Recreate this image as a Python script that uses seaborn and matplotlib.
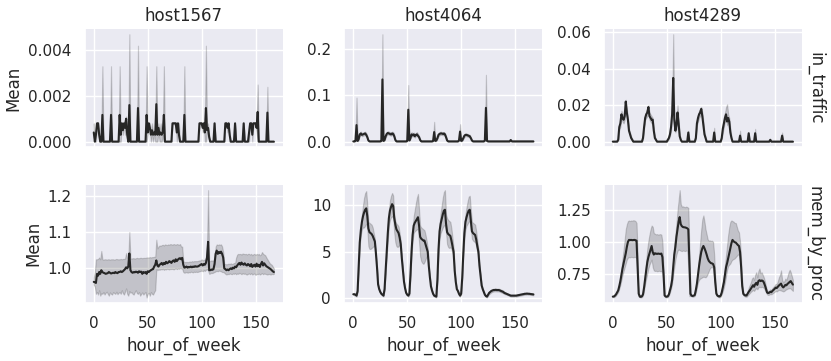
import pandas as pd
import seaborn as sns
import matplotlib.pyplot as plt

hosts = ["host1567", "host4064", "host4289"]
metrics = ["in_traffic", "mem_by_proc"]
hours = list(range(168))

# in_traffic / host1567 (one row of 24 values per day)
traffic_1567_mean = (
    [.0004, 0, .0003, .0008, .0008, .0003, 0, 0, .00117, 0, 0, 0, 0, 0, 0, 0, .00117, 0, 0, 0, 0, 0, 0, 0]
    + [.00117, .0003, .0008, .0005, .0008, .0006, .001, .0003, 0, .0016, 0, 0, 0, 0, 0, 0, 0, .00147, 0, 0, 0, 0, 0, 0]
    + [0, .00117, .0004, .0008, .0006, .0003, .0005, .0003, .0004, .0003, .00164, .0003, .0006, .0003, .0004, .0003, .0004, .00117, 0, 0, 0, 0, 0, 0]
    + [0, .0008, .0008, .0008, .0008, .0004, .0008, .0003, 0, 0, 0, 0, .00117, 0, 0, 0, 0, 0, 0, 0, 0, 0, 0, 0]
    + [0, 0, .0008, .0008, .0008, .0006, .0008, .0004, .00147, .0005, .0006, .0002, 0, 0, 0, 0, .0008, 0, 0, 0, 0, 0, 0, 0]
    + [0, 0, .0008, .0008, .0006, .0008, .0003, 0, 0, 0, 0, .0008, 0, 0, 0, 0, 0, 0, 0, .0008, 0, 0, 0, 0]
    + [.0004, .0008, .0008, .0003, .0008, .0008, .0008, .0006, .0013, 0, 0, 0, 0, 0, 0, 0, 0, .00127, 0, 0, 0, 0, 0, 0]
)
traffic_1567_hi = (
    [.0008, 0, .0003, .00085, .00085, .0003, 0, 0, .0033, 0, 0, 0, 0, 0, 0, 0, .0033, 0, 0, 0, 0, 0, 0, 0]
    + [.0033, .0003, .00085, .0008, .00085, .001, .0011, .0003, 0, .0047, 0, 0, 0, 0, 0, 0, 0, .0042, 0, 0, 0, 0, 0, 0]
    + [0, .0033, .0005, .00085, .0008, .0004, .0008, .0004, .0005, .0004, .0033, .0004, .0008, .0004, .0008, .0004, .0005, .0033, 0, 0, 0, 0, 0, 0]
    + [0, .00085, .00085, .00085, .00085, .0008, .00085, .0008, 0, 0, 0, 0, .0033, 0, 0, 0, 0, 0, 0, 0, 0, 0, 0, 0]
    + [0, 0, .00085, .00085, .00085, .0008, .00085, .0008, .0042, .0006, .0008, .0003, 0, 0, 0, 0, .00085, 0, 0, 0, 0, 0, 0, 0]
    + [0, 0, .00085, .00085, .0008, .00085, .0004, 0, 0, 0, 0, .00085, 0, 0, 0, 0, 0, 0, 0, .00085, 0, 0, 0, 0]
    + [.0008, .00085, .00085, .0008, .00085, .00085, .00085, .0008, .0025, 0, 0, 0, 0, 0, 0, 0, 0, .0024, 0, 0, 0, 0, 0, 0]
)
traffic_1567_lo = (
    [.0002, 0, 0, .00075, .00075, 0, 0, 0, 0, 0, 0, 0, 0, 0, 0, 0, 0, 0, 0, 0, 0, 0, 0, 0]
    + [0, 0, .00075, .0003, .00075, .0003, .0009, 0, 0, 0, 0, 0, 0, 0, 0, 0, 0, 0, 0, 0, 0, 0, 0, 0]
    + [0, 0, .0003, .00075, .0004, 0, .0003, 0, .0003, 0, 0, 0, .0004, 0, 0, 0, .0003, 0, 0, 0, 0, 0, 0, 0]
    + [0, .00075, .00075, .00075, .00075, 0, .00075, 0, 0, 0, 0, 0, 0, 0, 0, 0, 0, 0, 0, 0, 0, 0, 0, 0]
    + [0, 0, .00075, .00075, .00075, .0004, .00075, 0, 0, .0004, .0004, 0, 0, 0, 0, 0, .00075, 0, 0, 0, 0, 0, 0, 0]
    + [0, 0, .00075, .00075, .0004, .00075, 0, 0, 0, 0, 0, .00075, 0, 0, 0, 0, 0, 0, 0, .00075, 0, 0, 0, 0]
    + [0, .00075, .00075, 0, .00075, .00075, .00075, .0004, 0, 0, 0, 0, 0, 0, 0, 0, 0, 0, 0, 0, 0, 0, 0, 0]
)

# in_traffic / host4064
traffic_4064_mean = (
    [.001, .001, .002, .036, .002, .006, .016, .018, .015, .016, .017, .018, .015, .010, .003] + [.001] * 9
    + [.001, .001, .002, .134, .002, .004, .012, .017, .019, .018, .017, .016, .018, .017, .012, .004] + [.001] * 8
    + [.001, .001, .002, .069, .003, .008, .016, .014, .016, .012, .015, .016, .013, .010, .004] + [.001] * 9
    + [.001, .001, .002, .021, .002, .003, .008, .015, .017, .018, .018, .017, .018, .016, .010, .003] + [.001] * 8
    + [.001, .001, .003, .022, .002, .003, .008, .013, .015, .015, .014, .013, .012, .008, .003] + [.001] * 9
    + [.001, .001, .003, .073, .002] + [.001] * 19
    + [.001, .001, .004] + [.001] * 21
)
traffic_4064_hi = (
    [.0015, .0015, .003, .095, .003, .009, .020, .022, .019, .020, .021, .022, .019, .013, .004] + [.0015] * 9
    + [.0015, .0015, .003, .231, .003, .006, .016, .021, .023, .022, .021, .020, .022, .021, .015, .005] + [.0015] * 8
    + [.0015, .0015, .003, .122, .004, .011, .021, .018, .020, .016, .019, .021, .017, .013, .005] + [.0015] * 9
    + [.0015, .0015, .003, .043, .003, .004, .011, .019, .021, .022, .021, .020, .021, .019, .013, .004] + [.0015] * 8
    + [.0015, .0015, .004, .038, .003, .004, .010, .016, .018, .018, .017, .016, .015, .010, .004] + [.0015] * 9
    + [.0015, .0015, .004, .144, .003] + [.0015] * 19
    + [.0015, .0015, .005] + [.0015] * 21
)
traffic_4064_lo = (
    [.0005, .0005, .001, .004, .001, .004, .013, .015, .012, .013, .014, .015, .012, .008, .002] + [.0005] * 9
    + [.0005, .0005, .001, .010, .001, .003, .009, .014, .016, .015, .014, .013, .015, .014, .010, .003] + [.0005] * 8
    + [.0005, .0005, .001, .010, .002, .006, .012, .011, .013, .009, .012, .013, .010, .008, .003] + [.0005] * 9
    + [.0005, .0005, .001, .004, .001, .002, .006, .012, .014, .015, .015, .014, .015, .013, .008, .002] + [.0005] * 8
    + [.0005, .0005, .002, .006, .001, .002, .006, .010, .012, .012, .011, .010, .009, .006, .002] + [.0005] * 9
    + [.0005, .0005, .002, .008, .001] + [.0005] * 19
    + [.0005, .0005, .003] + [.0005] * 21
)

# in_traffic / host4289
traffic_4289_mean = (
    [0, 0, 0, 0, 0, .001, .008, .010, .015, .013, .012, .014, .022, .016, .012, .006, .004, .002, .001, 0, 0, 0, 0, 0]
    + [0, 0, 0, 0, .002, .008, .013, .015, .016, .019, .014, .013, .012, .012, .006, .002, .001, 0, 0, 0, 0, 0, 0, 0]
    + [0, 0, 0, .001, .002, .004, .008, .015, .035, .012, .006, .009, .016, .010, .003, .001, 0, 0, 0, 0, 0, 0, .005, 0]
    + [0, 0, 0, 0, 0, .002, .010, .013, .015, .016, .018, .014, .009, .004, .002, 0, 0, 0, 0, 0, 0, 0, .005, 0]
    + [0, 0, 0, 0, 0, .002, .007, .010, .013, .015, .011, .013, .011, .005, .002, 0, 0, 0, 0, 0, 0, 0, .0033, 0]
    + [0, 0, 0, 0, 0, 0, .0046, 0, 0, 0, 0, 0, .0046] + [0] * 11
    + [0, 0, .001] + [0] * 10 + [.0033] + [0] * 10
)
traffic_4289_hi = (
    [0, 0, 0, 0, 0, .0015, .009, .012, .017, .015, .014, .016, .023, .018, .013, .007, .005, .003, .0015, 0, 0, 0, 0, 0]
    + [0, 0, 0, 0, .003, .009, .014, .017, .018, .020, .016, .015, .014, .013, .007, .003, .0015, 0, 0, 0, 0, 0, 0, 0]
    + [0, 0, 0, .0015, .003, .005, .010, .017, .059, .014, .008, .012, .020, .012, .004, .0015, 0, 0, 0, 0, 0, 0, .006, 0]
    + [0, 0, 0, 0, 0, .003, .011, .015, .017, .018, .019, .016, .011, .005, .003, 0, 0, 0, 0, 0, 0, 0, .0076, 0]
    + [0, 0, 0, 0, 0, .003, .009, .0135, .016, .019, .0205, .015, .013, .007, .003, 0, 0, 0, 0, 0, 0, 0, .006, 0]
    + [0, 0, 0, 0, 0, 0, .005, 0, 0, 0, 0, 0, .007] + [0] * 11
    + [0, 0, .0015] + [0] * 10 + [.005] + [0] * 10
)
traffic_4289_lo = (
    [0, 0, 0, 0, 0, .0005, .007, .008, .013, .011, .010, .012, .020, .014, .011, .005, .003, .0015, .0005, 0, 0, 0, 0, 0]
    + [0, 0, 0, 0, .0015, .007, .012, .013, .014, .017, .012, .011, .010, .011, .005, .0015, .0005, 0, 0, 0, 0, 0, 0, 0]
    + [0, 0, 0, .0005, .0015, .003, .006, .013, .015, .010, .005, .007, .012, .008, .0025, .0005, 0, 0, 0, 0, 0, 0, .004, 0]
    + [0, 0, 0, 0, 0, .0015, .009, .011, .013, .014, .016, .012, .007, .003, .0015, 0, 0, 0, 0, 0, 0, 0, .003, 0]
    + [0, 0, 0, 0, 0, .0015, .005, .008, .011, .012, .009, .011, .009, .004, .0015, 0, 0, 0, 0, 0, 0, 0, .002, 0]
    + [0, 0, 0, 0, 0, 0, .004, 0, 0, 0, 0, 0, .003] + [0] * 11
    + [0, 0, .0005] + [0] * 10 + [.002] + [0] * 10
)

# mem_by_proc / host1567
mem_1567_mean = (
    [.963, .962, .960, .985, .980, .990, .985, .995, .990, .988, .987, .985, .986, .987, .990, .988, .986, .987, .988, .987, .990, .988, .987, .990]
    + [.990, .992, .990, .992, .995, .998, 1.003, 1.000, 1.005, 1.041, .995, .990, .988, .990, .989, .991, .990, .988, .992, .990, .991, .985, .990, .988]
    + [.990, .985, .992, .990, .993, .995, .997, .998, 1.005, 1.010, 1.022, 1.008, 1.005, 1.010, 1.012, 1.015, 1.010, 1.015, 1.012, 1.018, 1.014, 1.016, 1.020, 1.018]
    + [1.015, 1.020, 1.022, 1.018, 1.025, 1.020, 1.024, 1.027, 1.028, 1.025, 1.029, 1.010, 1.002, 1.003, 1.005, 1.002, 1.004, 1.003, 1.005, 1.003, 1.005, 1.004, 1.006, 1.005]
    + [1.005, 1.006, 1.008, 1.010, 1.012, 1.008, 1.012, 1.010, 1.015, 1.030, 1.073, .995, .995, .997, .996, .998, 1.012, 1.040, 1.049, 1.040, 1.045, 1.042, 1.046, 1.040]
    + [1.030, 1.000, .998, .995, .997, .995, .998, 1.000, .998, 1.002, 1.000, 1.005, 1.003, 1.008, 1.012, 1.015, 1.010, 1.016, 1.012, 1.010, 1.014, 1.010, 1.008, 1.012]
    + [1.010, 1.006, 1.012, 1.004, 1.008, 1.010, 1.005, 1.013, 1.006, 1.010, 1.004, 1.012, 1.018, 1.008, 1.014, 1.010, 1.006, 1.004, 1.002, 1.000, .998, .995, .992, .990]
)
mem_1567_hi = (
    [.975, .990, 1.025, 1.025, 1.026, 1.030, 1.025, 1.048, 1.025, 1.024, 1.025, 1.025, 1.024, 1.025, 1.025, 1.024, 1.025, 1.025, 1.025, 1.024, 1.025, 1.026, 1.025, 1.025]
    + [1.025, 1.026, 1.025, 1.026, 1.026, 1.027, 1.042, 1.030, 1.028, 1.100, 1.028, 1.027, 1.028, 1.028, 1.027, 1.028, 1.029, 1.028, 1.028, 1.029, 1.029, 1.028, 1.029, 1.029]
    + [1.029, 1.030, 1.030, 1.030, 1.031, 1.030, 1.031, 1.031, 1.032, 1.032, 1.079, 1.055, 1.060, 1.063, 1.062, 1.064, 1.065, 1.063, 1.066, 1.065, 1.064, 1.066, 1.065, 1.067]
    + [1.066, 1.065, 1.067, 1.066, 1.065, 1.067, 1.066, 1.065, 1.067, 1.060, 1.060, 1.020, 1.018, 1.017, 1.018, 1.017, 1.018, 1.019, 1.018, 1.020, 1.019, 1.020, 1.020, 1.020]
    + [1.020, 1.021, 1.022, 1.022, 1.025, 1.022, 1.024, 1.023, 1.030, 1.060, 1.215, 1.020, 1.020, 1.022, 1.021, 1.022, 1.030, 1.060, 1.066, 1.064, 1.066, 1.065, 1.066, 1.060]
    + [1.045, 1.012, 1.012, 1.011, 1.012, 1.013, 1.012, 1.014, 1.012, 1.013, 1.015, 1.014, 1.030, 1.038, 1.040, 1.039, 1.040, 1.038, 1.041, 1.040, 1.039, 1.040, 1.038, 1.040]
    + [1.040, 1.038, 1.040, 1.036, 1.039, 1.040, 1.037, 1.040, 1.038, 1.040, 1.036, 1.038, 1.045, 1.040, 1.038, 1.036, 1.030, 1.025, 1.020, 1.015, 1.012, 1.010, 1.005, 1.000]
)
mem_1567_lo = (
    [.955, .950, .930, .935, .928, .940, .925, .932, .930, .935, .928, .933, .936, .930, .925, .934, .930, .928, .935, .932, .930, .936, .929, .933]
    + [.935, .930, .940, .932, .928, .936, .945, .930, .925, .938, .933, .935, .930, .928, .935, .940, .932, .930, .935, .925, .930, .934, .928, .932]
    + [.935, .920, .930, .933, .925, .935, .930, .928, .935, .940, .998, .995, .997, .996, .998, .997, .999, .996, .998, .997, .999, .998, .997, .999]
    + [.998, .999, .997, .999, 1.000, .998, 1.000, .999, 1.001, 1.000, .999, .990, .988, .989, .990, .988, .990, .989, .991, .990, .989, .991, .990, .991]
    + [.990, .991, .992, .993, .994, .992, .995, .993, .996, .998, .994, .985, .986, .988, .987, .989, .990, .992, .993, .992, .994, .993, .992, .990]
    + [.990, .988, .985, .983, .985, .984, .986, .985, .984, .986, .985, .987, .984, .986, .985, .988, .986, .984, .987, .985, .986, .984, .983, .985]
    + [.986, .984, .987, .983, .985, .986, .982, .985, .984, .986, .983, .985, .987, .984, .986, .985, .984, .983, .985, .984, .983, .985, .984, .985]
)

# mem_by_proc / host4064
mem_4064_mean = (
    [.45, .45, .40, .30, .80, 3.50, 6.00, 7.30, 8.20, 8.80, 9.20, 9.50, 9.65, 8.80, 7.50, 7.10, 7.00, 6.90, 6.70, 6.40, 6.10, 4.80, 3.30, 1.50]
    + [1.00, .70, .50, .40, .30, 1.00, 3.00, 5.00, 7.00, 8.60, 9.40, 9.80, 10.10, 9.90, 8.60, 7.90, 7.40, 7.20, 7.00, 6.50, 5.80, 4.30, 3.00, 1.80]
    + [1.10, .60, .40, .30, .50, 2.50, 5.00, 6.80, 7.80, 8.10, 8.30, 8.50, 8.70, 7.80, 6.60, 6.40, 6.30, 6.20, 6.20, 5.80, 5.40, 5.00, 3.50, 2.30]
    + [1.30, .85, .50, .30, .25, .20, 2.00, 5.20, 7.20, 8.00, 8.50, 9.00, 9.40, 9.50, 8.00, 7.10, 6.90, 6.80, 6.70, 6.20, 5.60, 5.00, 3.00, 1.80]
    + [1.00, .80, .50, .30, .50, 2.20, 4.80, 7.00, 8.20, 8.70, 9.10, 9.40, 9.50, 8.30, 7.20, 7.00, 6.90, 6.80, 6.30, 5.60, 5.00, 3.50, 2.50, 1.40]
    + [1.00, .70, .40, .25, .20, .40, .60, .70, .80, .85, .90, .90, .92, .90, .90, .90, .85, .80, .75, .70, .60, .55, .50, .45]
    + [.40, .35, .30, .30, .30, .30, .30, .30, .32, .35, .38, .40, .42, .45, .47, .50, .50, .52, .50, .50, .48, .47, .45, .43]
)
mem_4064_hi = (
    [.55, .55, .50, .40, .90, 3.70, 6.30, 7.80, 9.00, 10.00, 10.80, 11.30, 11.50, 10.00, 8.20, 8.10, 8.00, 7.90, 7.60, 7.00, 6.40, 5.00, 3.40, 1.60]
    + [1.10, .80, .60, .50, .40, 1.10, 3.20, 5.50, 7.80, 9.50, 10.50, 11.00, 11.30, 11.00, 9.00, 8.30, 8.00, 7.90, 7.70, 7.00, 6.20, 4.50, 3.10, 1.90]
    + [1.20, .70, .50, .40, .60, 2.70, 5.30, 7.50, 8.80, 9.50, 10.20, 10.80, 11.20, 9.50, 7.80, 7.60, 7.50, 7.40, 7.30, 6.80, 6.20, 5.40, 3.70, 2.40]
    + [1.40, .95, .60, .40, .35, .30, 2.20, 5.60, 8.00, 9.20, 10.00, 10.80, 11.40, 11.60, 9.00, 8.60, 8.40, 8.30, 8.20, 7.50, 6.50, 5.40, 3.20, 1.90]
    + [1.10, .90, .60, .40, .60, 2.40, 5.10, 7.60, 9.00, 9.80, 10.40, 10.90, 11.00, 9.50, 8.20, 8.10, 8.00, 7.90, 7.20, 6.20, 5.30, 3.70, 2.60, 1.50]
    + [1.10, .80, .50, .35, .30, .55, .75, .85, .95, 1.00, 1.05, 1.05, 1.07, 1.05, 1.05, 1.05, 1.00, .95, .90, .85, .72, .66, .60, .55]
    + [.50, .45, .40, .40, .40, .40, .40, .40, .42, .45, .48, .50, .52, .55, .57, .60, .60, .62, .60, .60, .58, .57, .55, .53]
)
mem_4064_lo = (
    [.35, .35, .30, .20, .70, 3.30, 5.70, 6.80, 7.40, 7.60, 7.60, 7.80, 8.00, 7.40, 5.60, 5.30, 5.30, 5.40, 5.50, 5.60, 5.70, 4.50, 3.20, 1.40]
    + [.90, .60, .40, .30, .20, .90, 2.80, 4.50, 6.20, 7.80, 8.40, 8.70, 8.80, 8.60, 7.00, 6.00, 5.60, 5.50, 5.60, 5.80, 5.40, 4.10, 2.90, 1.70]
    + [1.00, .50, .30, .20, .40, 2.30, 4.70, 6.20, 7.00, 7.20, 7.30, 7.40, 7.40, 6.00, 4.50, 4.00, 3.80, 3.70, 3.90, 4.20, 4.50, 4.60, 3.30, 2.20]
    + [1.20, .75, .40, .20, .15, .10, 1.80, 4.80, 6.40, 7.00, 7.30, 7.60, 7.80, 7.90, 7.00, 5.80, 5.50, 5.40, 5.50, 5.30, 4.90, 4.60, 2.80, 1.70]
    + [.90, .70, .40, .20, .40, 2.00, 4.50, 6.40, 7.40, 7.80, 8.00, 8.20, 8.30, 7.40, 6.40, 6.20, 6.10, 6.00, 5.60, 5.00, 4.70, 3.30, 2.40, 1.30]
    + [.90, .60, .30, .15, .10, .30, .45, .55, .65, .70, .75, .75, .77, .75, .75, .75, .70, .65, .60, .55, .48, .44, .40, .35]
    + [.30, .25, .20, .20, .20, .20, .20, .20, .22, .25, .28, .30, .32, .35, .37, .40, .40, .42, .40, .40, .38, .37, .35, .33]
)

# mem_by_proc / host4289
mem_4289_mean = (
    [.567, .568, .575, .585, .600, .616, .650, .690, .740, .790, .830, .870, .910, .960, 1.000, 1.016, 1.015, 1.016, 1.014, 1.015, 1.016, 1.014, 1.010, .800]
    + [.590, .567, .565, .570, .585, .640, .710, .778, .840, .880, .910, .940, .968, .920, .900, .910, .908, .905, .908, .906, .905, .908, .880, .750]
    + [.576, .568, .566, .570, .585, .616, .650, .700, .800, .900, .960, 1.040, 1.100, 1.160, 1.197, 1.140, 1.125, 1.118, 1.116, 1.115, 1.112, 1.108, 1.100, .850]
    + [.589, .575, .572, .575, .580, .620, .670, .740, .810, .870, .920, .950, .968, .950, .927, .900, .870, .850, .840, .832, .830, .825, .800, .680]
    + [.590, .575, .570, .568, .575, .600, .640, .680, .740, .800, .832, .870, .910, .950, .990, 1.016, 1.005, .998, .995, .985, .975, .968, .920, .800]
    + [.650, .589, .580, .576, .576, .590, .605, .616, .630, .645, .657, .645, .665, .676, .660, .690, .697, .690, .695, .692, .680, .657, .630, .600]
    + [.595, .598, .605, .602, .612, .620, .628, .638, .635, .645, .655, .662, .670, .650, .640, .648, .660, .657, .668, .675, .684, .690, .675, .662]
)
mem_4289_hi = (
    [.572, .574, .582, .595, .612, .630, .670, .720, .790, .870, .940, 1.020, 1.100, 1.140, 1.165, 1.170, 1.165, 1.170, 1.168, 1.172, 1.170, 1.165, 1.150, .900]
    + [.600, .574, .572, .578, .595, .660, .760, .860, .950, 1.010, 1.060, 1.100, 1.130, 1.120, 1.070, 1.065, 1.060, 1.062, 1.058, 1.060, 1.062, 1.058, 1.000, .800]
    + [.585, .576, .574, .578, .595, .630, .680, .740, .860, .980, 1.060, 1.150, 1.250, 1.330, 1.410, 1.300, 1.280, 1.282, 1.278, 1.275, 1.280, 1.276, 1.270, .950]
    + [.600, .582, .580, .582, .590, .640, .700, .800, .900, 1.000, 1.100, 1.180, 1.210, 1.160, 1.100, 1.060, 1.020, 1.010, 1.012, 1.008, 1.010, 1.000, .900, .720]
    + [.600, .582, .578, .576, .585, .620, .680, .740, .820, .900, .980, 1.060, 1.120, 1.160, 1.170, 1.165, 1.160, 1.150, 1.150, 1.120, 1.090, 1.076, 1.000, .860]
    + [.680, .600, .590, .585, .586, .610, .640, .660, .680, .710, .720, .700, .740, .760, .720, .770, .790, .750, .760, .740, .720, .690, .650, .615]
    + [.612, .615, .625, .620, .635, .645, .655, .668, .665, .690, .720, .740, .775, .700, .680, .690, .710, .700, .730, .760, .780, .760, .730, .700]
)
mem_4289_lo = (
    [.562, .563, .568, .576, .590, .602, .630, .660, .700, .740, .770, .800, .830, .860, .875, .880, .878, .882, .880, .878, .882, .880, .870, .700]
    + [.580, .562, .560, .563, .575, .620, .670, .710, .750, .790, .820, .840, .860, .800, .775, .770, .772, .768, .770, .772, .768, .770, .760, .690]
    + [.568, .562, .560, .563, .575, .600, .630, .670, .740, .800, .860, .900, .930, .940, .935, .930, .928, .932, .930, .928, .932, .930, .800, .570]
    + [.575, .568, .565, .568, .572, .600, .640, .680, .700, .710, .715, .720, .725, .722, .720, .730, .750, .770, .790, .800, .800, .795, .720, .640]
    + [.580, .568, .563, .560, .566, .585, .610, .640, .680, .730, .780, .810, .820, .830, .850, .860, .865, .870, .880, .890, .900, .900, .850, .750]
    + [.620, .578, .570, .566, .566, .575, .585, .595, .605, .612, .620, .612, .625, .635, .625, .640, .645, .640, .645, .642, .635, .620, .605, .585]
    + [.580, .582, .588, .585, .592, .598, .605, .612, .608, .615, .620, .618, .615, .612, .608, .612, .620, .625, .630, .632, .635, .630, .620, .612]
)

# y tick labels shown on the two panels where the automatic choice differs
ticks_4289_traffic = [0.00, 0.02, 0.04, 0.06]
ticks_1567_mem = [1.0, 1.1, 1.2]

panels = [
    ("host1567", "in_traffic", traffic_1567_lo, traffic_1567_mean, traffic_1567_hi),
    ("host4064", "in_traffic", traffic_4064_lo, traffic_4064_mean, traffic_4064_hi),
    ("host4289", "in_traffic", traffic_4289_lo, traffic_4289_mean, traffic_4289_hi),
    ("host1567", "mem_by_proc", mem_1567_lo, mem_1567_mean, mem_1567_hi),
    ("host4064", "mem_by_proc", mem_4064_lo, mem_4064_mean, mem_4064_hi),
    ("host4289", "mem_by_proc", mem_4289_lo, mem_4289_mean, mem_4289_hi),
]

# long form: three rows per hour (low, centre, high) -> median line, min/max band
frames = []
for host, metric, lo, mid, hi in panels:
    for vals in (lo, mid, hi):
        frames.append(pd.DataFrame({"host": host, "metric": metric,
                                    "hour_of_week": hours, "Mean": vals}))
df = pd.concat(frames, ignore_index=True)

sns.set_theme(style="darkgrid")

g = sns.FacetGrid(df, row="metric", col="host", row_order=metrics, col_order=hosts,
                  sharey=False, margin_titles=True)
g.map_dataframe(sns.lineplot, x="hour_of_week", y="Mean", estimator="median",
                errorbar=("pi", 100), color=".15", err_kws={"linewidth": 0.8})
g.set_titles(row_template="{row_name}", col_template="{col_name}")
g.set_axis_labels("hour_of_week", "Mean")

g.axes[0, 2].set_yticks(ticks_4289_traffic)
g.axes[1, 0].set_yticks(ticks_1567_mem)

g.figure.set_size_inches(8.31, 3.61)
g.figure.subplots_adjust(left=0.102, right=0.965, top=0.92, bottom=0.161,
                         wspace=0.31, hspace=0.32)
g.figure.savefig("out.png", dpi=100)
